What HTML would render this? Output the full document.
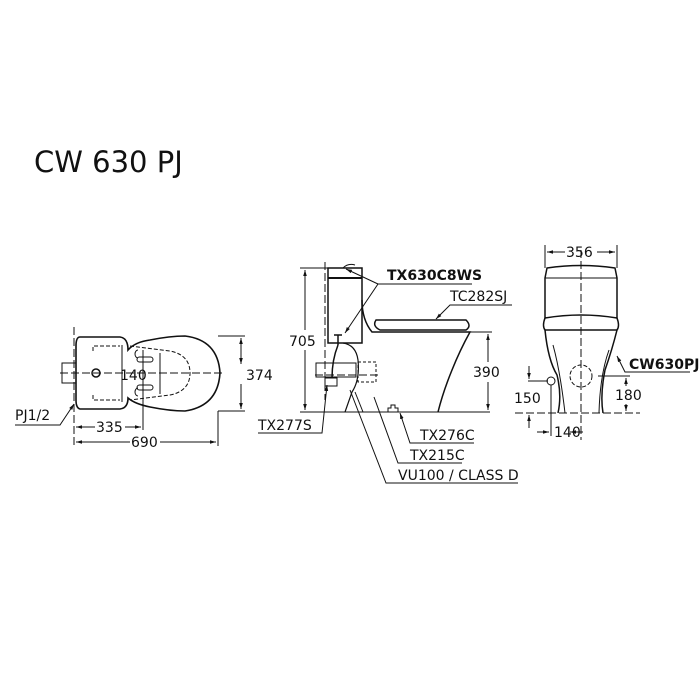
<!DOCTYPE html>
<html><head><style>
html,body{margin:0;padding:0;background:#fff}
svg{display:block}
text{font-family:"DejaVu Sans","Liberation Sans",sans-serif;fill:#111}
</style></head><body>
<svg width="700" height="700" viewBox="0 0 700 700" xmlns="http://www.w3.org/2000/svg">
<defs>
<marker id="a" viewBox="0 0 10 10" refX="10" refY="5" markerWidth="6" markerHeight="6" orient="auto-start-reverse"><path d="M0,2 L10,5 L0,8 z" fill="#111"/></marker>
</defs>
<text x="34" y="172" font-size="29">CW 630 PJ</text>

<g stroke="#111" fill="none" stroke-width="1">
<!-- PLAN VIEW -->
<line x1="60" y1="373" x2="225" y2="373" stroke-dasharray="8,3"/>
<line x1="74" y1="327" x2="74" y2="447" stroke-dasharray="8,3"/>
<rect x="62" y="363" width="14" height="20"/>
<path d="M80,337 L120,337 Q128,338 128,350 Q135,342 150,340 Q170,336 185,336 Q218,340 220,373 Q218,406 185,411 Q170,411 150,407 Q135,404 128,398 Q128,408 120,409 L80,409 Q76,408 76,400 L76,346 Q76,337 80,337 Z" stroke-width="1.6"/>
<line x1="122" y1="345" x2="122" y2="402"/>
<circle cx="96" cy="373" r="4" stroke-width="1.5"/>
<path d="M93,351 L93,346 L120,346" stroke-dasharray="4,2"/>
<path d="M93,395 L93,400 L120,400" stroke-dasharray="4,2"/>
<path d="M130,346 L170,351 Q190,355 190,373 Q190,391 170,395 L130,400" stroke-dasharray="4,2"/>
<path d="M138,350 a3,4 0 0 0 0,8 M138,388 a3,4 0 0 0 0,8"/>
<rect x="137" y="357" width="16" height="5" rx="2.5"/>
<rect x="137" y="385" width="16" height="5" rx="2.5"/>
<line x1="143" y1="350" x2="143" y2="430"/>
<line x1="160" y1="353" x2="160" y2="394"/>
<line x1="218" y1="336" x2="245" y2="336"/>
<line x1="218" y1="411" x2="245" y2="411"/>
<line x1="241" y1="338" x2="241" y2="364" marker-end="url(#a)" marker-start="url(#a)" transform="translate(0,0)"/>
<line x1="241" y1="384" x2="241" y2="409" marker-end="url(#a)"/>
<line x1="218" y1="411" x2="218" y2="446"/>
<line x1="76" y1="427" x2="95" y2="427" marker-start="url(#a)"/>
<line x1="125" y1="427" x2="141" y2="427" marker-end="url(#a)"/>
<line x1="76" y1="442" x2="130" y2="442" marker-start="url(#a)"/>
<line x1="160" y1="442" x2="216" y2="442" marker-end="url(#a)"/>
<polyline points="15,425 60,425 74,404" marker-end="url(#a)"/>

<!-- SIDE VIEW -->
<line x1="300" y1="412" x2="490" y2="412"/>
<line x1="300" y1="268" x2="330" y2="268"/>
<line x1="305" y1="270" x2="305" y2="330" marker-start="url(#a)"/>
<line x1="305" y1="350" x2="305" y2="410" marker-end="url(#a)"/>
<line x1="325" y1="262" x2="325" y2="400" stroke-dasharray="8,3"/>
<path d="M328,268 L362,268 L362,343 L328,343 Z" stroke-width="1.5"/>
<line x1="328" y1="278" x2="362" y2="278" stroke-width="2"/>
<path d="M343,268 q5,-5 12,-3" />
<path d="M362,300 Q362,320 372,332 L470,332 Q460,350 452,370 Q443,392 438,412" stroke-width="1.5"/>
<path d="M376,320 Q372,326 380,330 L466,330 Q472,326 466,320 Z" stroke-width="1.5"/>
<path d="M343,343 Q356,345 358,360 Q360,380 352,392 L345,412" stroke-width="1.2"/>
<path d="M355,392 L363,412"/>
<rect x="316" y="363" width="40" height="14"/>
<rect x="358" y="362" width="18" height="20" stroke-dasharray="3,2"/>
<line x1="315" y1="375" x2="380" y2="375" stroke-dasharray="8,3"/>
<path d="M338,335 L338,345 M334,335 L342,335" stroke-width="1.5"/>
<path d="M338,345 Q332,360 332,378" stroke-width="1.5"/>
<rect x="325" y="378" width="12" height="8"/>
<path d="M388,412 l0,-4 l3,0 l0,-3 l4,0 l0,3 l3,0 l0,4"/>
<line x1="470" y1="332" x2="492" y2="332"/>
<line x1="488" y1="334" x2="488" y2="362" marker-start="url(#a)"/>
<line x1="488" y1="382" x2="488" y2="410" marker-end="url(#a)"/>
<polyline points="472,284 378,284 345,333" marker-end="url(#a)"/>
<line x1="378" y1="284" x2="346" y2="269" marker-end="url(#a)"/>
<polyline points="512,305 450,305 436,319" marker-end="url(#a)"/>
<polyline points="258,433 322,433 327,385" marker-end="url(#a)"/>
<polyline points="474,443 410,443 400,413" marker-end="url(#a)"/>
<polyline points="462,463 398,463 374,397"/>
<polyline points="518,483 386,483 350,390"/>

<!-- FRONT VIEW -->
<line x1="581" y1="250" x2="581" y2="440" stroke-dasharray="8,3"/>
<line x1="545" y1="245" x2="545" y2="268"/>
<line x1="617" y1="245" x2="617" y2="268"/>
<line x1="547" y1="252" x2="565" y2="252" marker-start="url(#a)"/>
<line x1="597" y1="252" x2="615" y2="252" marker-end="url(#a)"/>
<path d="M547,268 Q581,263 615,268 L617,278 L617,318 Q581,312 545,318 L545,278 Z" stroke-width="1.5"/>
<line x1="545" y1="278" x2="617" y2="278"/>
<path d="M545,318 Q542,326 545,330 L617,330 Q620,326 617,318" stroke-width="1.5"/>
<path d="M545,330 Q548,360 557,375 Q562,395 558,413 M617,330 Q612,350 605,370 Q600,395 603,413" stroke-width="1.5"/>
<path d="M553,345 Q560,370 565,413 M609,350 Q600,375 599,413"/>
<circle cx="581" cy="376" r="11" stroke-dasharray="4,2"/>
<line x1="515" y1="413" x2="640" y2="413" stroke-dasharray="8,3"/>
<line x1="598" y1="376" x2="630" y2="376"/>
<line x1="626" y1="378" x2="626" y2="386" marker-start="url(#a)"/>
<line x1="626" y1="404" x2="626" y2="411" marker-end="url(#a)"/>
<circle cx="551" cy="381" r="4"/>
<line x1="528" y1="381" x2="548" y2="381"/>
<line x1="529" y1="366" x2="529" y2="379" marker-end="url(#a)"/>
<line x1="529" y1="415" x2="529" y2="428" marker-start="url(#a)"/>
<line x1="551" y1="385" x2="551" y2="436"/>
<line x1="537" y1="432" x2="549" y2="432" marker-end="url(#a)"/>
<line x1="583" y1="432" x2="570" y2="432" marker-end="url(#a)"/>
<polyline points="690,372 625,372 617,356" marker-end="url(#a)"/>
</g>

<g font-size="14">
<text x="120" y="380">140</text>
<text x="246" y="380">374</text>
<text x="96" y="432">335</text>
<text x="131" y="447">690</text>
<text x="15" y="420">PJ1/2</text>
<text x="289" y="346">705</text>
<text x="473" y="377">390</text>
<text x="387" y="280" font-weight="bold">TX630C8WS</text>
<text x="450" y="301">TC282SJ</text>
<text x="258" y="430">TX277S</text>
<text x="420" y="440">TX276C</text>
<text x="410" y="460">TX215C</text>
<text x="398" y="480">VU100 / CLASS D</text>
<text x="566" y="257">356</text>
<text x="629" y="369" font-weight="bold">CW630PJ</text>
<text x="514" y="403">150</text>
<text x="615" y="400">180</text>
<text x="554" y="437">140</text>
</g>
</svg>
</body></html>
